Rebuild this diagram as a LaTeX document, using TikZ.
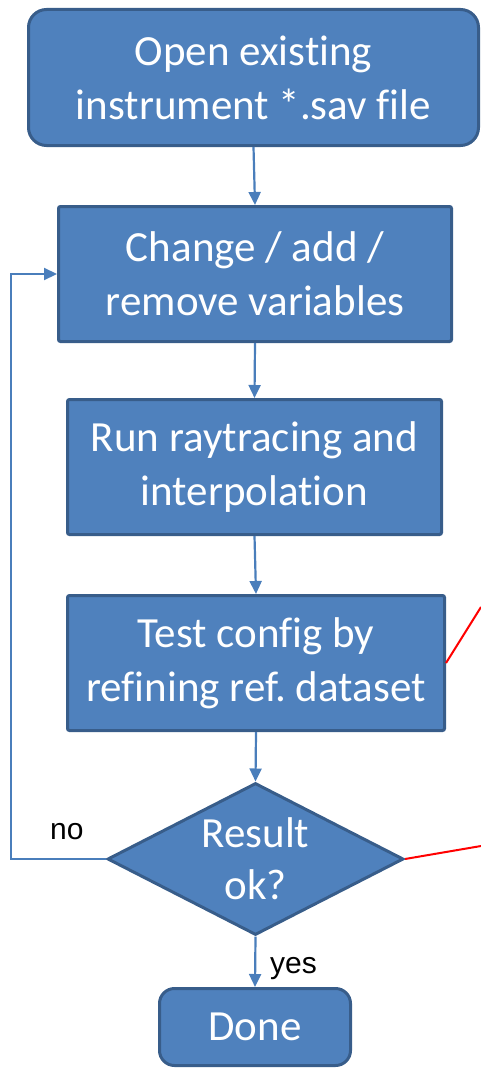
\documentclass[tikz,border=0pt]{standalone}
\usepackage{fontspec}
\setmainfont{Carlito}[Ligatures={NoCommon,NoRequired,NoContextual}]
\newfontfamily\labelfont{Liberation Sans}
\usetikzlibrary{shapes.geometric,arrows.meta}
\definecolor{boxFill}{HTML}{4F81BD}
\definecolor{boxLine}{HTML}{385D8A}
\definecolor{arrowBlue}{HTML}{4A7EBB}
\frenchspacing

\begin{document}
\begin{tikzpicture}[x=1pt,y=-1pt,
  every node/.style={align=center},
  terminal/.style={draw=boxLine,line width=3pt,fill=boxFill,rounded corners=18pt,text=white,inner sep=0pt,font=\fontsize{43}{54}\selectfont},
  process/.style={draw=boxLine,line width=3pt,fill=boxFill,rounded corners=2pt,text=white,inner sep=0pt,font=\fontsize{43}{54}\selectfont},
  decision/.style={draw=boxLine,line width=3pt,fill=boxFill,diamond,aspect=1.9,text=white,inner sep=0pt,font=\fontsize{43}{52}\selectfont},
  flow/.style={-{Triangle[width=12pt,length=13pt]},line width=2.2pt,arrowBlue},
  redLink/.style={line width=2pt,red},
  answer/.style={anchor=base west,inner sep=0pt,font=\labelfont\fontsize{30}{36}\selectfont}]

  \useasboundingbox (0,0) rectangle (481,1070);

  % the steps
  \node[terminal,minimum width=450pt,minimum height=136pt] (open) at (253.5,77.5) {Open existing\\instrument *.sav file};
  \node[process,minimum width=393pt,minimum height=135pt] (change) at (255,274) {Change / add /\\remove variables};
  \node[process,minimum width=374pt,minimum height=135pt] (run) at (254.5,467) {Run raytracing and\\interpolation};
  \node[process,minimum width=377pt,minimum height=135pt] (test) at (256,663) {Test config by\\refining ref. dataset};
  \node[decision,minimum width=296pt,minimum height=152pt] (result) at (255.5,859) {Result\\ok?};
  \node[terminal,minimum width=191pt,minimum height=77pt,rounded corners=15pt] (done) at (255,1027) {Done};

  % helper points
  \coordinate (back) at (11,859);
  \coordinate (redA) at (481,607);
  \coordinate (redB) at (481,846);

  % main flow
  \draw[flow] (open.south) -- (change.north);
  \draw[flow] (change.south) -- (run.north);
  \draw[flow] (run.south) -- (test.north);
  \draw[flow] (test.south) -- (result.north);
  \draw[flow] (result.south) -- (done.north);
  \draw[flow] (result.west) -- (back) |- (change.west);

  % red links
  \draw[redLink] (test.east) -- (redA);
  \draw[redLink] (result.east) -- (redB);

  % answers
  \node[answer] (no) at (50,839) {no};
  \node[answer] (yes) at (270,973) {yes};
\end{tikzpicture}
\end{document}
